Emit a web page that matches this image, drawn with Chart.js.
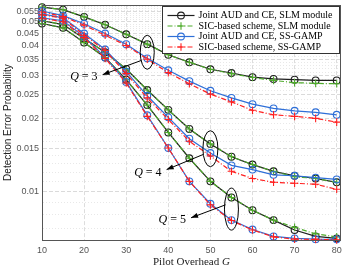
<!DOCTYPE html>
<html>
<head>
<meta charset="utf-8">
<script src="https://cdn.jsdelivr.net/npm/chart.js@4.4.1/dist/chart.umd.min.js"></script>
<style>
  html, body { margin: 0; padding: 0; background: #fff; }
  #wrap { width: 346px; height: 268px; }
</style>
</head>
<body>
<div id="wrap"><canvas id="chart" width="346" height="268"></canvas></div>
<script>
// x values (pilot overhead G) and axis ticks
const pilotOverhead = [10, 15, 20, 25, 30, 35, 40, 45, 50, 55, 60, 65, 70, 75, 80];
const xTicks = [10, 20, 30, 40, 50, 60, 70, 80];
const yTicks = [0.01, 0.015, 0.02, 0.025, 0.03, 0.035, 0.04, 0.045, 0.05, 0.055];
const yTickLabels = ['0.01', '0.015', '0.02', '0.025', '0.03', '0.035', '0.04', '0.045', '0.05', '0.055'];

// Q = 3
const slmJointQ3 = [0.0576, 0.0562, 0.0525, 0.0487, 0.0445, 0.0405, 0.0366, 0.0341, 0.0319, 0.0308, 0.0296, 0.0291, 0.0289, 0.0287, 0.0287];
const slmSicQ3   = [0.0576, 0.0562, 0.0525, 0.0487, 0.0445, 0.0405, 0.0366, 0.0341, 0.0319, 0.0306, 0.0295, 0.0287, 0.0281, 0.0279, 0.0278];
const gampJointQ3 = [0.0555, 0.0531, 0.0492, 0.0448, 0.0405, 0.0354, 0.0316, 0.0285, 0.0260, 0.0243, 0.0229, 0.0220, 0.0215, 0.0212, 0.0207];
const gampSicQ3   = [0.0550, 0.0527, 0.0485, 0.0441, 0.0400, 0.0351, 0.0309, 0.0278, 0.0252, 0.0234, 0.0216, 0.0207, 0.0204, 0.0200, 0.0193];

// Q = 4
const slmJointQ4 = [0.0506, 0.0488, 0.0427, 0.0375, 0.0320, 0.0262, 0.0217, 0.0181, 0.0157, 0.0139, 0.0129, 0.0121, 0.0116, 0.0113, 0.0109];
const slmSicQ4   = [0.0506, 0.0488, 0.0427, 0.0375, 0.0320, 0.0262, 0.0217, 0.0181, 0.0157, 0.0139, 0.0129, 0.0121, 0.0115, 0.0113, 0.0109];
const gampJointQ4 = [0.0540, 0.0520, 0.0448, 0.0385, 0.0312, 0.0248, 0.0202, 0.0165, 0.0144, 0.0128, 0.0123, 0.0117, 0.0116, 0.0114, 0.0112];
const gampSicQ4   = [0.0535, 0.0518, 0.0441, 0.0382, 0.0306, 0.0243, 0.0198, 0.0161, 0.0140, 0.0121, 0.0113, 0.0109, 0.0108, 0.0107, 0.0102];

// Q = 5
const slmJointQ5 = [0.0493, 0.0473, 0.0411, 0.0357, 0.0289, 0.0227, 0.0175, 0.0137, 0.0110, 0.00944, 0.00836, 0.00761, 0.00693, 0.00652, 0.00640];
const slmSicQ5   = [0.0493, 0.0473, 0.0411, 0.0357, 0.0289, 0.0227, 0.0175, 0.0137, 0.0110, 0.00944, 0.00836, 0.00761, 0.00710, 0.00668, 0.00649];
const gampJointQ5 = [0.0520, 0.0506, 0.0435, 0.0357, 0.0283, 0.0206, 0.0151, 0.0110, 0.00889, 0.00761, 0.00696, 0.00652, 0.00640, 0.00635, 0.00634];
const gampSicQ5   = [0.0518, 0.0501, 0.0431, 0.0354, 0.0280, 0.0204, 0.0151, 0.0110, 0.00880, 0.00758, 0.00693, 0.00649, 0.00635, 0.00634, 0.00631];

const legendLabels = [
    'Joint AUD and CE, SLM module',
    'SIC-based scheme, SLM module',
    'Joint AUD and CE, SS-GAMP',
    'SIC-based scheme, SS-GAMP'
];

const styles = [
    { color: '#1e1e1e', point: 'circle', dash: [], order: 4 },
    { color: '#4fab2c', point: 'cross', dash: [5, 2, 1, 2], order: 3 },
    { color: '#2e6fd8', point: 'circle', dash: [], order: 2 },
    { color: '#ff2020', point: 'cross', dash: [5, 2, 1, 2], order: 1 }
];

const groups = [
    [slmJointQ3, slmSicQ3, gampJointQ3, gampSicQ3],
    [slmJointQ4, slmSicQ4, gampJointQ4, gampSicQ4],
    [slmJointQ5, slmSicQ5, gampJointQ5, gampSicQ5]
];

const datasets = [];
groups.forEach(group => {
    group.forEach((values, k) => {
        const s = styles[k];
        datasets.push({
            label: legendLabels[k],
            data: values.map((v, i) => ({ x: pilotOverhead[i], y: v })),
            borderColor: s.color,
            backgroundColor: 'transparent',
            borderWidth: 1.2,
            borderDash: s.dash,
            pointStyle: s.point,
            pointRadius: s.point === 'circle' ? 3.4 : 3.8,
            pointBorderColor: s.color,
            pointBackgroundColor: 'transparent',
            pointBorderWidth: 1.1,
            tension: 0,
            clip: false,
            order: s.order
        });
    });
});

const isMajorY = v => yTicks.some(t => Math.abs(t - v) < 1e-9);

// Q annotations: ellipse centre (data), radii (px), label right end, arrow
const qNotes = [
    { q: 3, cx: 35, cy: 0.0375, rx: 7, ry: 17, lx: 23.2, ly: 0.0298, tail: [33.6, 0.0347], tip: [24.4, 0.0303] },
    { q: 4, cx: 50, cy: 0.0150, rx: 7.5, ry: 18, lx: 38.4, ly: 0.0119, tail: [48.3, 0.0142], tip: [39.6, 0.0123] },
    { q: 5, cx: 55, cy: 0.00845, rx: 7, ry: 21, lx: 44.2, ly: 0.00761, tail: [53.6, 0.0088], tip: [45.4, 0.00778] }
];

function drawQLabel(ctx, q, xRight, yMid) {
    const rest = ' = ' + q;
    ctx.font = '12px "Liberation Serif"';
    const wRest = ctx.measureText(rest).width;
    ctx.font = 'italic 12px "Liberation Serif"';
    const wQ = ctx.measureText('Q').width;
    const x0 = xRight - wRest - wQ;
    ctx.fillStyle = '#000';
    ctx.textBaseline = 'middle';
    ctx.textAlign = 'left';
    ctx.fillText('Q', x0, yMid);
    ctx.font = '12px "Liberation Serif"';
    ctx.fillText(rest, x0 + wQ, yMid);
}

function drawArrow(ctx, x1, y1, x2, y2) {
    ctx.strokeStyle = '#000';
    ctx.fillStyle = '#000';
    ctx.lineWidth = 1;
    ctx.setLineDash([]);
    ctx.beginPath();
    ctx.moveTo(x1, y1);
    ctx.lineTo(x2, y2);
    ctx.stroke();
    const ang = Math.atan2(y2 - y1, x2 - x1);
    const len = 7, wid = 2.6;
    ctx.beginPath();
    ctx.moveTo(x2, y2);
    ctx.lineTo(x2 - len * Math.cos(ang) + wid * Math.sin(ang), y2 - len * Math.sin(ang) - wid * Math.cos(ang));
    ctx.lineTo(x2 - len * Math.cos(ang) - wid * Math.sin(ang), y2 - len * Math.sin(ang) + wid * Math.cos(ang));
    ctx.closePath();
    ctx.fill();
}

const decorPlugin = {
    id: 'decor',
    afterDraw(chart) {
        const { ctx, chartArea: a, scales: { x, y } } = chart;
        ctx.save();

        // axes box
        ctx.setLineDash([]);
        ctx.strokeStyle = '#555';
        ctx.lineWidth = 1;
        ctx.strokeRect(Math.round(a.left) + 0.5, Math.round(a.top) + 0.5,
            Math.round(a.right - a.left) - 1, Math.round(a.bottom - a.top));

        // ellipses, arrows, labels
        qNotes.forEach(n => {
            ctx.strokeStyle = '#000';
            ctx.lineWidth = 1;
            ctx.beginPath();
            ctx.ellipse(x.getPixelForValue(n.cx), y.getPixelForValue(n.cy), n.rx, n.ry, 0, 0, Math.PI * 2);
            ctx.stroke();
            drawArrow(ctx, x.getPixelForValue(n.tail[0]), y.getPixelForValue(n.tail[1]),
                x.getPixelForValue(n.tip[0]), y.getPixelForValue(n.tip[1]));
            drawQLabel(ctx, n.q, x.getPixelForValue(n.lx), y.getPixelForValue(n.ly));
        });

        // legend
        const bw = 177, bh = 47;
        const bx = Math.round(a.right - bw - 2) + 0.5, by = Math.round(a.top + 1) + 0.5;
        ctx.fillStyle = '#fff';
        ctx.fillRect(bx, by, bw, bh);
        ctx.strokeStyle = '#333';
        ctx.lineWidth = 1;
        ctx.strokeRect(bx, by, bw, bh);
        ctx.font = '10px "Liberation Serif"';
        ctx.textBaseline = 'middle';
        ctx.textAlign = 'left';
        legendLabels.forEach((lab, k) => {
            const s = styles[k];
            const ry = by + 9 + k * 10.5;
            ctx.strokeStyle = s.color;
            ctx.lineWidth = 1.2;
            ctx.setLineDash(s.dash);
            ctx.beginPath();
            ctx.moveTo(bx + 5, ry);
            ctx.lineTo(bx + 32, ry);
            ctx.stroke();
            ctx.setLineDash([]);
            ctx.lineWidth = 1.1;
            ctx.beginPath();
            if (s.point === 'circle') {
                ctx.arc(bx + 18.5, ry, 3.4, 0, Math.PI * 2);
            } else {
                ctx.moveTo(bx + 14.7, ry); ctx.lineTo(bx + 22.3, ry);
                ctx.moveTo(bx + 18.5, ry - 3.8); ctx.lineTo(bx + 18.5, ry + 3.8);
            }
            ctx.stroke();
            ctx.fillStyle = '#000';
            ctx.fillText(lab, bx + 36, ry);
        });

        // x axis title with italic G
        const t1 = 'Pilot Overhead ';
        ctx.font = '11px "Liberation Serif"';
        const w1 = ctx.measureText(t1).width;
        ctx.font = 'italic 11px "Liberation Serif"';
        const w2 = ctx.measureText('G').width;
        const tx = (a.left + a.right) / 2 - (w1 + w2) / 2;
        ctx.fillStyle = '#222';
        ctx.textBaseline = 'middle';
        ctx.font = '11px "Liberation Serif"';
        ctx.fillText(t1, tx, 262);
        ctx.font = 'italic 11px "Liberation Serif"';
        ctx.fillText('G', tx + w1, 262);

        ctx.restore();
    }
};

new Chart(document.getElementById('chart'), {
    type: 'line',
    data: { datasets },
    options: {
        responsive: false,
        animation: false,
        devicePixelRatio: 1,
        layout: { padding: { top: 2, right: 2, left: 0, bottom: 0 } },
        plugins: {
            legend: { display: false },
            tooltip: { enabled: false }
        },
        scales: {
            x: {
                type: 'linear',
                min: 10,
                max: 81,
                afterBuildTicks: scale => { scale.ticks = xTicks.map(v => ({ value: v })); },
                afterFit: scale => {
                    scale.height = 28;
                    scale.paddingLeft = 0;
                    scale.paddingRight = 0;
                },
                ticks: {
                    color: '#555',
                    font: { family: 'Liberation Sans', size: 9 },
                    padding: 5,
                    maxRotation: 0,
                    callback: v => String(v)
                },
                grid: { color: '#d4d4d4', lineWidth: 0.8, drawTicks: false },
                border: { display: true, color: '#555', width: 1, dash: ctx => ctx.tick ? [4, 2] : [] }
            },
            y: {
                type: 'logarithmic',
                min: 0.0063,
                max: 0.0587,
                afterBuildTicks: scale => {
                    const t = [];
                    for (let i = 7; i <= 58; i++) t.push({ value: i / 1000 });
                    scale.ticks = t;
                },
                afterFit: scale => {
                    scale.width = 42;
                    scale.paddingTop = 0;
                    scale.paddingBottom = 0;
                },
                ticks: {
                    color: '#555',
                    font: { family: 'Liberation Sans', size: 9 },
                    padding: 3,
                    autoSkip: false,
                    callback: function (v) {
                        const idx = yTicks.findIndex(t => Math.abs(t - v) < 1e-9);
                        return idx >= 0 ? yTickLabels[idx] : '';
                    }
                },
                grid: {
                    color: ctx => isMajorY(ctx.tick.value) ? '#d0d0d0' : '#e2e2e2',
                    lineWidth: 0.8,
                    drawTicks: false
                },
                border: {
                    display: true, color: '#555', width: 1,
                    dash: ctx => ctx.tick ? (isMajorY(ctx.tick.value) ? [4, 2] : [1, 2]) : []
                },
                title: {
                    display: true,
                    text: 'Detection Error Probability',
                    color: '#222',
                    font: { family: 'Liberation Sans', size: 10 },
                    padding: { top: 2, bottom: 2 }
                }
            }
        }
    },
    plugins: [decorPlugin]
});
</script>
</body>
</html>
